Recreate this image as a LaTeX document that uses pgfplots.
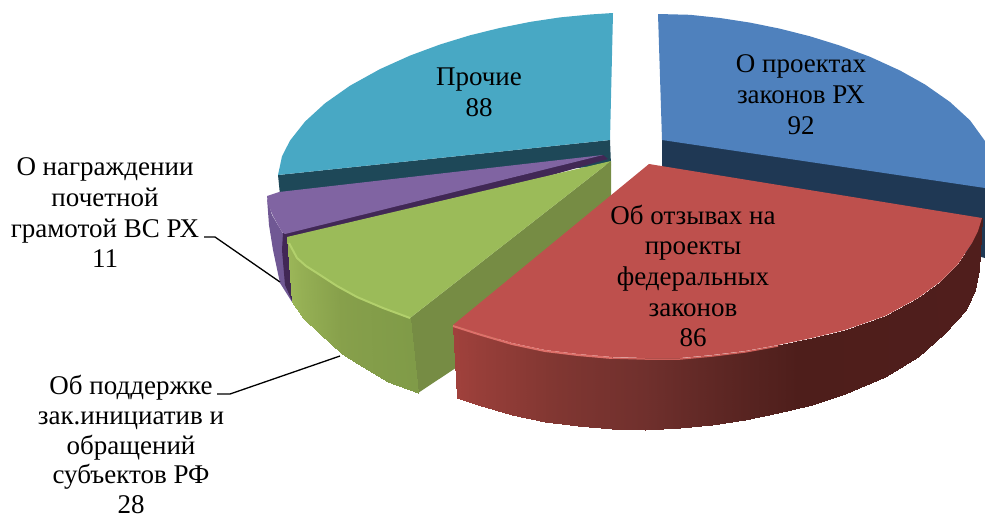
\documentclass[border=0pt]{standalone}
\usepackage{fontspec}
\setmainfont{Liberation Serif}
\usepackage{pgfplots}
\usepackage{pgfplotstable}
\pgfplotsset{compat=1.18}

\definecolor{bluetop}{RGB}{79,129,189}
\definecolor{blueside}{RGB}{31,56,84}
\definecolor{redtop}{RGB}{190,80,77}
\definecolor{greentop}{RGB}{155,187,89}
\definecolor{greenin}{RGB}{118,140,68}
\definecolor{purpletop}{RGB}{128,100,162}
\definecolor{purpleside}{RGB}{112,88,148}
\definecolor{purpledark}{RGB}{65,40,85}
\definecolor{tealtop}{RGB}{72,168,196}
\definecolor{tealside}{RGB}{30,72,88}

\pgfplotsset{
  colormap={redcm}{rgb255(0)=(160,65,60) rgb255(18)=(130,55,50) rgb255(36)=(112,48,45) rgb255(55)=(88,36,33) rgb255(65)=(78,30,27) rgb255(100)=(80,30,28)},
  colormap={greencm}{rgb255(0)=(155,182,88) rgb255(5)=(135,160,75) rgb255(10)=(128,155,72)},
}
\tikzset{lbl/.style={font=\fontsize{27}{30.7}\selectfont, align=center, inner sep=0pt, anchor=center}}

% side bands: upper and lower edge of the rim, c = place in the colour map
\pgfplotstableread{
x y c
453 325 0
457 398 0
478 333 0.05
478 405 0.05
512 343 0.11
512 415 0.11
545 350 0.17
545 422 0.17
578 354 0.24
578 426 0.24
612 357 0.30
612 429 0.30
645 358 0.36
645 430 0.36
680 358 0.43
680 428 0.43
712 355 0.49
712 425 0.49
745 351 0.55
745 420 0.55
778 345 0.61
778 413 0.61
812 338 0.68
812 405 0.68
845 330 0.74
845 394 0.74
885 316 0.82
885 377 0.82
918 298 0.88
918 357 0.88
940 282 0.92
945 333 0.92
958 264 0.95
966 310 0.95
972 243 0.98
975 290 0.98
982 218 1
979 270 1
}\redrim

\pgfplotstableread{
x y c
287 237 0
292 302 0
300 260 0.15
303 318 0.15
317 273 0.3
320 334 0.3
340 287 0.5
342 354 0.5
357 297 0.65
358 364 0.65
385 309 0.85
388 382 0.85
410 318 1
418 393 1
}\greenrim

\begin{document}
\begin{tikzpicture}
\useasboundingbox (0,0) rectangle (985pt,517pt);
\begin{axis}[
    at={(0,0)}, anchor=south west,
    scale only axis,
    width=985pt, height=517pt,
    xmin=0, xmax=985,
    ymin=0, ymax=517,
    y dir=reverse,
    hide axis,
    point meta min=0, point meta max=1,
]

% Прочие
\addplot[fill=tealside, draw=none] coordinates {(278,175) (610,140) (611,165) (280,195)};
\addplot[fill=tealtop, draw=none] coordinates {
    (613,13) (590,14.5) (560,17.4) (530,21.9) (500,27.9) (470,35.3) (440,44.5) (410,55.6) (380,69.1)
    (350,85.7) (325,103.3) (305,121.6) (290,140.6) (282,156.3) (278,175) (610,140)} -- cycle;

% О проектах законов РХ
\addplot[fill=blueside, draw=none] coordinates {(662,138) (985,186) (985,258) (662,170)};
\addplot[fill=bluetop, draw=none] coordinates {
    (658,14) (690,14.8) (720,18) (750,22.6) (780,28.7) (810,36.3) (840,45.6) (870,56.8) (900,70.5)
    (925,84.5) (950,102) (970,120.3) (985,141) (985,188) (662,140)} -- cycle;

% О награждении почетной грамотой ВС РХ
\addplot[fill=purpleside, draw=none] coordinates {
    (267,198) (269,225) (273,250) (280,283) (292,302) (288,240) (282,232) (272,215)};
\addplot[fill=purpledark, draw=none] coordinates {
    (608,159) (603,155) (283,233) (282,250) (285,285) (293,303) (292,250)};
\addplot[fill=purpletop, draw=none] coordinates {
    (603,155) (279,192) (267,196) (268,204) (273,216) (282,232) (285,234)};

% Об поддержке зак.инициатив
\addplot[fill=greenin, draw=none] coordinates {(410,318) (611,161) (611,265) (418,393)};
\addplot[surf, shader=interp, colormap name=greencm, mesh/rows=7, point meta=\thisrow{c}] table {\greenrim};
\addplot[fill=greentop, draw=none] coordinates {
    (287,237) (290,248) (297,258) (306,266) (317,273) (337,286) (357,297) (383,308) (410,318) (611,161)} -- cycle;
\addplot[draw={rgb,255:red,178;green,208;blue,108}, line width=2pt] coordinates {
    (289,243) (297,258) (306,266) (317,273) (337,286) (357,297) (383,308) (410,318)};

% Об отзывах на проекты федеральных законов
\addplot[surf, shader=interp, colormap name=redcm, mesh/rows=19, point meta=\thisrow{c}] table {\redrim};
\addplot[fill=redtop, draw=none] coordinates {
    (982,218) (978,231) (972,243) (958,264) (940,282) (918,298) (885,316) (845,330) (812,338) (778,345)
    (745,351) (712,355) (680,358) (645,358) (612,357) (578,354) (545,350) (512,343) (478,333) (453,325) (649,164)} -- cycle;
\addplot[draw={rgb,255:red,222;green,112;blue,106}, line width=2pt] coordinates {
    (453,326) (478,334) (512,344) (545,351) (578,355) (612,358)};
\addplot[draw={rgb,255:red,205;green,95;blue,90}, line width=1.5pt] coordinates {
    (612,358) (645,359) (680,359) (712,356) (745,352) (778,346)};

% выноски
\addplot[black, line width=1.3pt] coordinates {(204,237) (215,237) (280,282)};
\addplot[black, line width=1.3pt] coordinates {(217,394) (230,394) (340,356)};

\node[lbl] at (axis cs:479,92.5) {Прочие\\88};
\node[lbl] at (axis cs:801,94.5) {О проектах\\законов РХ\\92};
\node[lbl] at (axis cs:693,276) {Об отзывах на\\проекты\\федеральных\\законов\\86};
\node[lbl] at (axis cs:105,213) {О награждении\\почетной\\грамотой ВС РХ\\11};
\node[lbl, font=\fontsize{27}{29.6}\selectfont] at (axis cs:131,444.5) {Об поддержке\\зак.инициатив и\\обращений\\субъектов РФ\\28};

\end{axis}
\end{tikzpicture}
\end{document}
